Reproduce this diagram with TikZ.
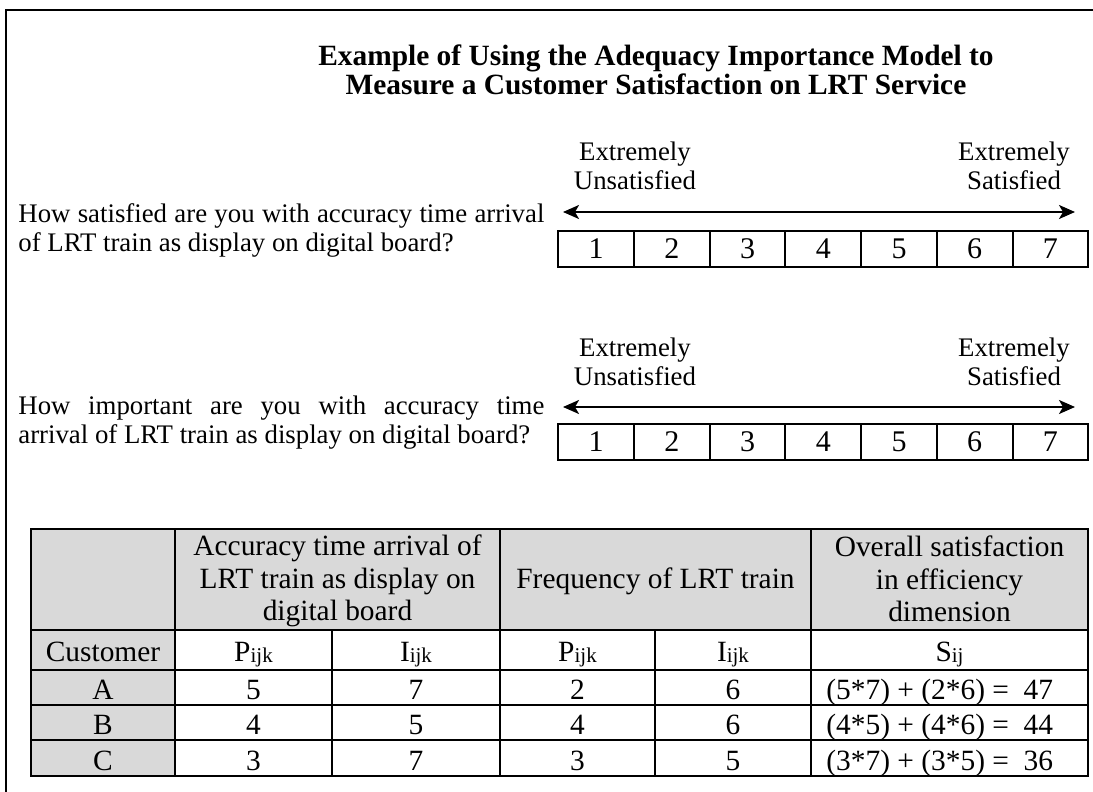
\documentclass[tikz,border=0pt]{standalone}
\usepackage{fontspec}
\setmainfont{Liberation Serif}
\usetikzlibrary{arrows.meta}
\definecolor{headgray}{RGB}{217,217,217}
\newcommand{\idx}[1]{\raisebox{-0.6pt}{\fontsize{10.5pt}{11pt}\selectfont #1}}
\tikzset{%
  body/.style={font=\fontsize{13.4pt}{14.5pt}\selectfont, inner sep=0pt},
  head/.style={font=\fontsize{14.7pt}{14.5pt}\selectfont\bfseries, inner sep=0pt, align=center},
  cell/.style={font=\fontsize{14.7pt}{16.3pt}\selectfont, inner sep=0pt},
  box/.style={draw, line width=1pt, minimum width=37.86pt, minimum height=18pt,
              inner sep=0pt, font=\fontsize{15pt}{16pt}\selectfont},
  <->-/.style={line width=1pt,
               {Stealth[length=8pt,width=7pt,inset=2pt]}-{Stealth[length=8pt,width=7pt,inset=2pt]}},
  rule/.style={line width=1pt},
}
\begin{document}
\begin{tikzpicture}[x=0.5pt,y=-0.5pt]
              \useasboundingbox (0,0) rectangle (1093,792);
              \draw[line width=1pt] (6,792) -- (6,10) -- (1093,10);
              \node[head,anchor=north] (title) at (656,44)
                   {Example of Using the Adequacy Importance Model to\\Measure a Customer Satisfaction on LRT Service};
              % first question
              \node[body,align=center,anchor=north] (low1) at (635,142) {Extremely\\Unsatisfied};
              \node[body,align=center,anchor=north] (high1) at (1014,142) {Extremely\\Satisfied};
              \node[body,align=left,anchor=north west] (ask1) at (18,203)
                   {\makebox[263pt][s]{How satisfied are you with accuracy time arrival}\\of LRT train as display on digital board?};
              \coordinate (a1l) at (563,212);
              \coordinate (a1r) at (1075,212);
              \draw[<->-] (a1l) -- (a1r);
              \foreach \k in {1,...,7}
                \node[box] (s1-\k) at ({558.3+75.71*(\k-0.5)},248.5) {\k};
              % second question
              \node[body,align=center,anchor=north] (low2) at (635,338) {Extremely\\Unsatisfied};
              \node[body,align=center,anchor=north] (high2) at (1014,338) {Extremely\\Satisfied};
              \node[body,align=left,anchor=north west] (ask2) at (18,396)
                   {\makebox[263pt][s]{How important are you with accuracy time}\\arrival of LRT train as display on digital board?};
              \coordinate (a2l) at (563,407);
              \coordinate (a2r) at (1075,407);
              \draw[<->-] (a2l) -- (a2r);
              \foreach \k in {1,...,7}
                \node[box] (s2-\k) at ({558.3+75.71*(\k-0.5)},441.5) {\k};
              % table
              \fill[headgray] (31,529) rectangle (1088,630);
              \fill[headgray] (31,630) rectangle (175,776);
              \draw[rule] (31,529) rectangle (1088,776);
              \foreach \y in {630,670,705,740}
                \draw[rule] (31,\y) -- (1088,\y);
              \foreach \x in {175,500,811}
                \draw[rule] (\x,529) -- (\x,776);
              \foreach \x in {332,655}
                \draw[rule] (\x,630) -- (\x,776);
              \node[cell,align=center] (acc) at (337.5,581)
                   {Accuracy time arrival of\\LRT train as display on\\digital board};
              \node[cell] (freq) at (655.5,581) {Frequency of LRT train};
              \node[cell,align=center] (overall) at (949.5,579)
                   {Overall satisfaction\\in efficiency\\dimension};
              \node[cell,anchor=base] (cust) at (103,661) {Customer};
              \node[cell,anchor=base] (p1) at (253.5,661) {P\idx{ijk}};
              \node[cell,anchor=base] (i1) at (416,661) {I\idx{ijk}};
              \node[cell,anchor=base] (p2) at (577.5,661) {P\idx{ijk}};
              \node[cell,anchor=base] (i2) at (733,661) {I\idx{ijk}};
              \node[cell,anchor=base] (sij) at (949.5,661) {S\idx{ij}};
              \foreach \cu/\yy/\va/\vb/\vc/\vd/\tot in {%
                  A/699/5/7/2/6/{(5*7) + (2*6) =\ \ 47},
                  B/734.5/4/5/4/6/{(4*5) + (4*6) =\ \ 44},
                  C/770/3/7/3/5/{(3*7) + (3*5) =\ \ 36}} {
                \node[cell,anchor=base] (who\cu) at (103,\yy) {\cu};
                \node[cell,anchor=base] (pa\cu) at (253.5,\yy) {\va};
                \node[cell,anchor=base] (ia\cu) at (416,\yy) {\vb};
                \node[cell,anchor=base] (pb\cu) at (577.5,\yy) {\vc};
                \node[cell,anchor=base] (ib\cu) at (733,\yy) {\vd};
                \node[cell,anchor=base west] (tot\cu) at (826,\yy) {\tot};
              }
\end{tikzpicture}
\end{document}
